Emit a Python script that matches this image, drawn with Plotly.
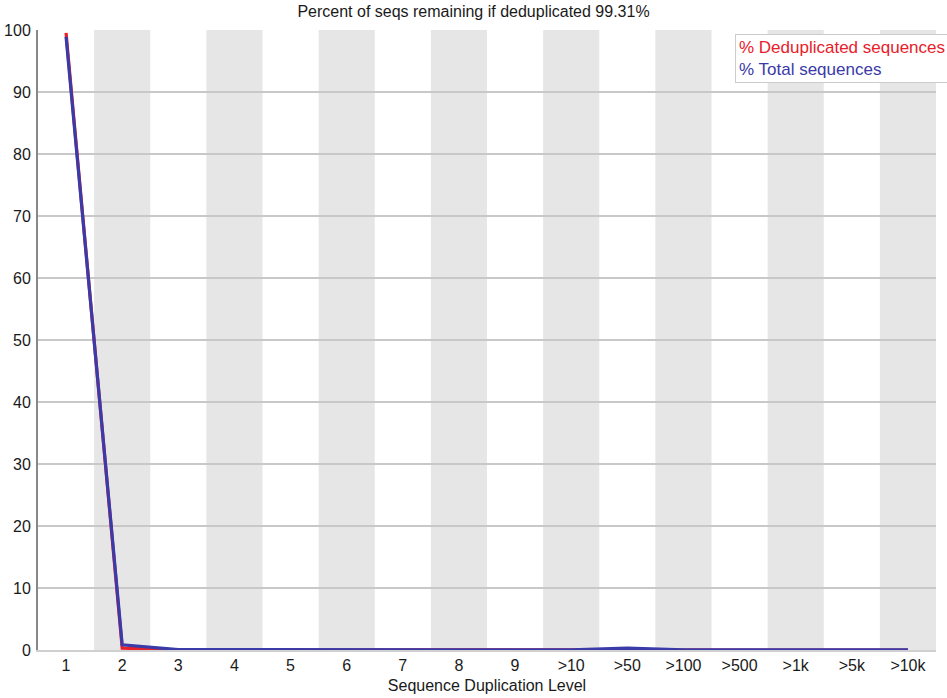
import plotly.graph_objects as go

categories = ["1", "2", "3", "4", "5", "6", "7", "8", "9", ">10", ">50", ">100", ">500", ">1k", ">5k", ">10k"]
dedup = [99.55, 0.3, 0.02, 0.01, 0.0, 0.0, 0.0, 0.0, 0.0, 0.0, 0.05, 0.01, 0.0, 0.0, 0.0, 0.0]
total = [98.9, 0.85, 0.06, 0.03, 0.02, 0.02, 0.02, 0.02, 0.02, 0.02, 0.3, 0.03, 0.02, 0.02, 0.02, 0.02]
y_ticks = [0, 10, 20, 30, 40, 50, 60, 70, 80, 90, 100]
title_text = "Percent of seqs remaining if deduplicated 99.31%"

fig = go.Figure()

shapes = []
for i, c in enumerate(categories):
    if i % 2 == 1:
        shapes.append(dict(type="rect", xref="x", yref="paper", x0=i - 0.5, x1=i + 0.5,
                           y0=0, y1=1, fillcolor="#e6e6e6", line=dict(width=0), layer="below"))

fig.add_trace(go.Scatter(x=list(range(len(categories))), y=dedup, mode="lines",
                         line=dict(color="#e8202a", width=3.2), name="% Deduplicated sequences"))
fig.add_trace(go.Scatter(x=list(range(len(categories))), y=total, mode="lines",
                         line=dict(color="#3a3aa8", width=3.2), name="% Total sequences"))

fig.update_layout(
    width=947, height=698,
    margin=dict(l=38, r=11, t=30, b=48),
    paper_bgcolor="white", plot_bgcolor="rgba(0,0,0,0)",
    font=dict(family="Liberation Sans, Arial, sans-serif", size=16, color="#1a1a1a"),
    showlegend=False,
    shapes=shapes,
    title=dict(text=title_text, x=0.5, xanchor="center", y=0.992, yanchor="top",
               font=dict(size=16, color="#1a1a1a")),
    xaxis=dict(range=[-0.5, len(categories) - 0.5], tickmode="array", automargin=False,
               tickvals=list(range(len(categories))), ticktext=categories,
               showgrid=False, zeroline=False, showline=True, linecolor="#d0d0d0", linewidth=1.5,
               ticks="",
               title=dict(text="Sequence Duplication Level", standoff=7, font=dict(size=16))),
    yaxis=dict(range=[0, 100], tickmode="array", tickvals=y_ticks, automargin=False,
               showgrid=True, gridcolor="#c8c8c8", gridwidth=1.5, zeroline=False,
               showline=True, linecolor="#888888", linewidth=2, ticks="outside",
               ticklen=2, tickcolor="rgba(0,0,0,0)", layer="below traces"),
    annotations=[dict(
        xref="paper", yref="paper", x=(735 - 38) / 898, y=(650 - 34) / 620,
        xanchor="left", yanchor="top", align="left", showarrow=False,
        text="<span style='color:#e8202a'>% Deduplicated sequences</span><br>"
             "<span style='color:#3a3aa8'>% Total sequences</span>",
        font=dict(size=17), bgcolor="white", bordercolor="#cccccc", borderwidth=1, borderpad=3)],
)

fig.write_html("out.html")
